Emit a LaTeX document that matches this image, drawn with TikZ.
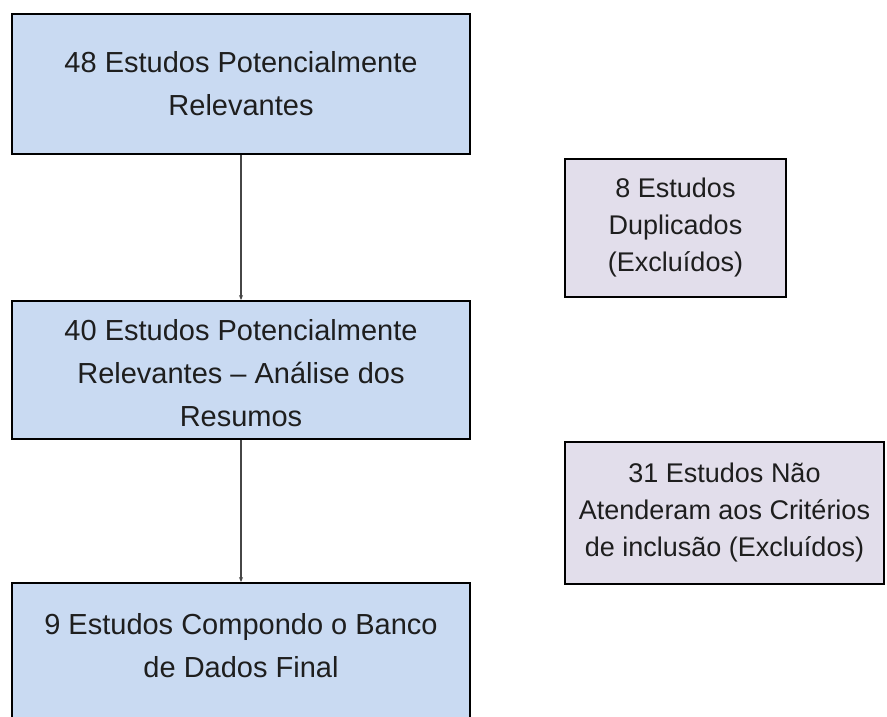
\documentclass[tikz,border=0pt]{standalone}
\usepackage{fontspec}
\setmainfont{Liberation Sans}
\usetikzlibrary{arrows.meta}
\definecolor{boxblue}{RGB}{201,218,242}
\definecolor{boxlav}{RGB}{226,222,235}
\definecolor{txt}{RGB}{30,30,30}
\definecolor{conngray}{RGB}{70,70,70}
\begin{document}
\begin{tikzpicture}[x=1pt,y=-1pt,
  bluebox/.style={draw=black, line width=1.8pt, fill=boxblue, minimum width=458pt, inner sep=0pt, align=center, text=txt, font=\fontsize{29}{43}\selectfont},
  lavbox/.style={draw=black, line width=1.8pt, fill=boxlav, inner sep=0pt, align=center, text=txt, font=\fontsize{27}{37}\selectfont},
  boxtext/.style={inner sep=0pt, align=center, text=txt, font=\fontsize{29}{43}\selectfont},
  conn/.style={draw=conngray, line width=1.2pt, -{Stealth[length=5pt,width=4pt]}}]
\useasboundingbox (0,0) rectangle (887,716);
\clip (0,0) rectangle (887,716);
\fill[white] (0,0) rectangle (887,716);
\node[bluebox, minimum height=140pt] (b1) at (241,84) {48 Estudos Potencialmente\\Relevantes};
\node[bluebox, minimum height=138pt] (b2) at (241,370) {};
\node[boxtext] (b2t) at (241,373) {40 Estudos Potencialmente\\Relevantes -- Análise dos\\Resumos};
\node[bluebox, minimum height=140pt] (b3) at (241,653) {};
\node[boxtext] (b3t) at (241,646) {9 Estudos Compondo o Banco\\de Dados Final};
\node[lavbox, minimum width=221pt, minimum height=138pt] (r1) at (675.5,228) {8 Estudos\\Duplicados\\(Excluídos)};
\node[lavbox, minimum width=319pt, minimum height=142pt] (r2) at (724.5,513) {31 Estudos Não\\Atenderam aos Critérios\\de inclusão (Excluídos)};
\draw[conn] (b1.south) -- (b2.north);
\draw[conn] (b2.south) -- (b3.north);
\end{tikzpicture}
\end{document}
